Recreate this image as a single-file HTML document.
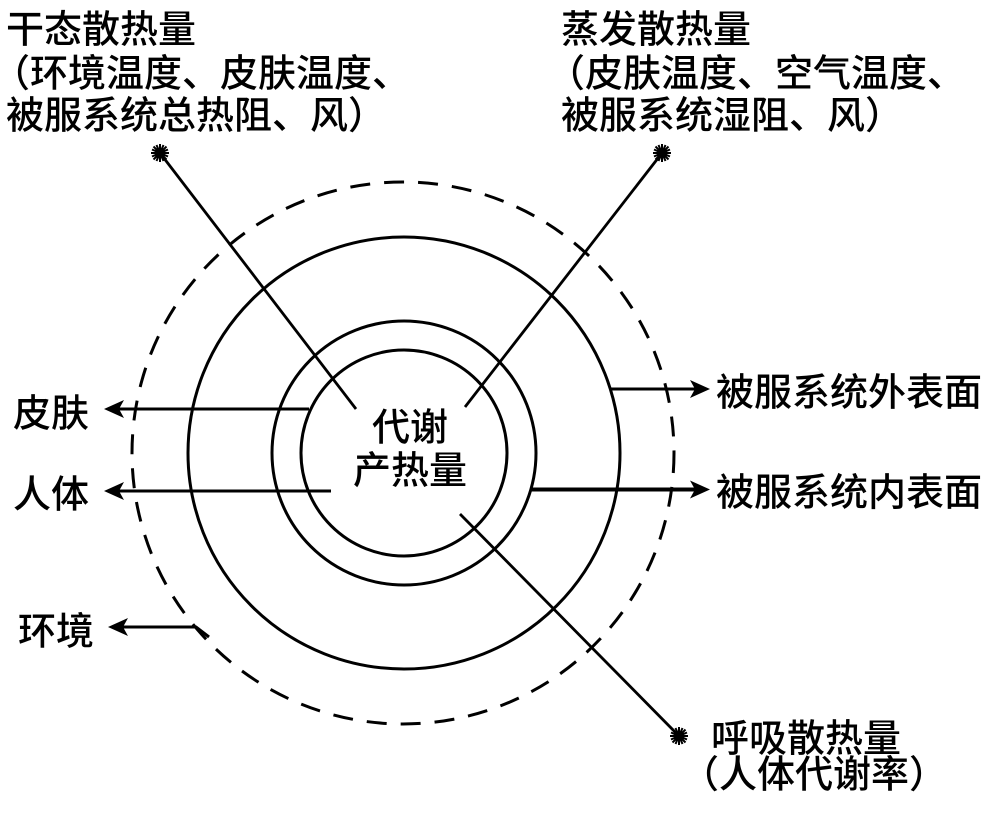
<!DOCTYPE html>
<html><head><meta charset="utf-8"><style>
html,body{margin:0;padding:0;background:#fff;}
svg{display:block;}
text{font-family:"Noto Sans CJK SC",sans-serif;font-size:38px;font-weight:500;fill:#000;dominant-baseline:central;}
</style></head><body>
<svg width="1000" height="815" viewBox="0 0 1000 815" xmlns="http://www.w3.org/2000/svg">
<defs>
<g id="star">
<circle r="5" fill="#000"/>
<path d="M-9,0H9M0,-9V9M-6.5,-6.5L6.5,6.5M-6.5,6.5L6.5,-6.5M-8,-3.5L8,3.5M-8,3.5L8,-3.5M-3.5,-8L3.5,8M3.5,-8L-3.5,8" stroke="#000" stroke-width="2"/>
</g>
</defs>
<g fill="none" stroke="#000" stroke-width="3">
<circle cx="404" cy="453" r="103"/>
<circle cx="404" cy="453" r="132"/>
<circle cx="404" cy="453" r="216"/>
<circle cx="403" cy="453" r="271" stroke-dasharray="20,14"/>
</g>
<g stroke="#000" stroke-width="2.8" fill="none">
<line x1="160" y1="153" x2="356" y2="409"/>
<line x1="662" y1="153" x2="465" y2="407"/>
<line x1="460" y1="514" x2="679" y2="736"/>
</g>
<g stroke="#000" stroke-width="3" fill="none">
<line x1="309" y1="409" x2="108" y2="409"/>
<line x1="331" y1="491" x2="108" y2="491"/>
<polyline points="209,637 196,627 112,627"/>
<line x1="611" y1="389" x2="705" y2="389"/>
<line x1="530" y1="489.5" x2="705" y2="489.5" stroke-width="4"/>
</g>
<g fill="#000">
<path d="M104,409 L124,400 L119,409 L124,418 Z"/>
<path d="M104,491 L124,482 L119,491 L124,500 Z"/>
<path d="M108,627 L128,618 L123,627 L128,636 Z"/>
<path d="M710,389 L690,380 L695,389 L690,398 Z"/>
<path d="M710,489.5 L690,480.5 L695,489.5 L690,498.5 Z"/>
</g>
<use href="#star" x="160" y="153"/>
<use href="#star" x="662" y="153"/>
<use href="#star" x="679" y="736"/>
<text x="6" y="26">干态散热量</text>
<text x="-8" y="70">（环境温度、皮肤温度、</text>
<text x="6" y="112">被服系统总热阻、风）</text>
<text x="561" y="26">蒸发散热量</text>
<text x="547" y="70">（皮肤温度、空气温度、</text>
<text x="561" y="112">被服系统湿阻、风）</text>
<text x="711" y="735">呼吸散热量</text>
<text x="681" y="771">（人体代谢率）</text>
<text x="13" y="410">皮肤</text>
<text x="13" y="491">人体</text>
<text x="18" y="628">环境</text>
<text x="716" y="389">被服系统外表面</text>
<text x="716" y="489">被服系统内表面</text>
<text x="410" y="424" text-anchor="middle">代谢</text>
<text x="410" y="467" text-anchor="middle">产热量</text>
</svg>
</body></html>
